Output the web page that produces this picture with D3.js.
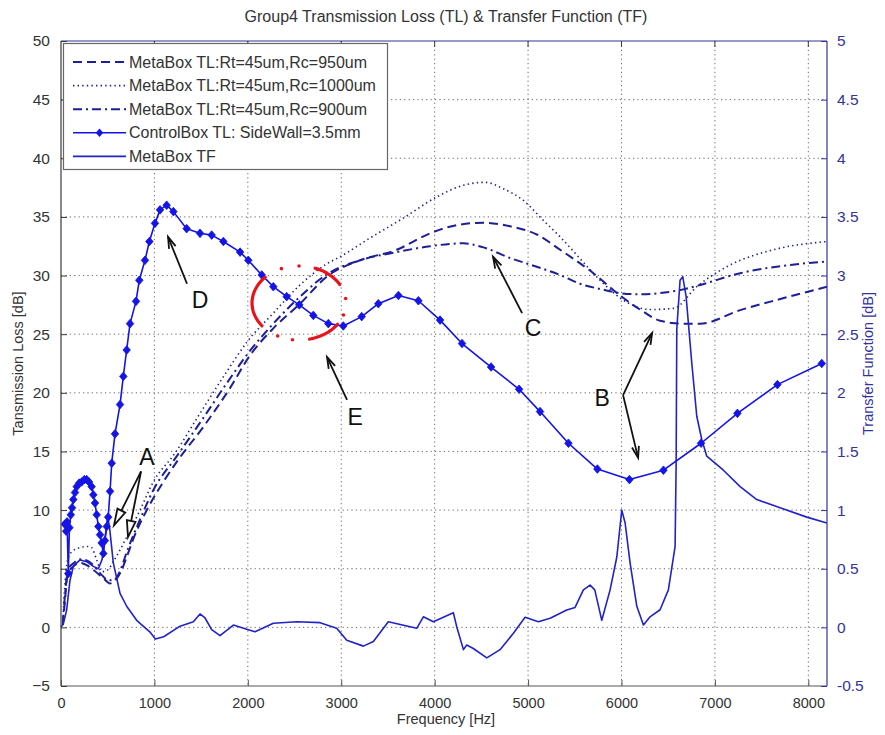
<!DOCTYPE html>
<html>
<head>
<meta charset="utf-8">
<script src="https://cdn.jsdelivr.net/npm/d3@7/dist/d3.min.js"></script>
<style>
  html, body { margin: 0; padding: 0; background: #ffffff; }
  svg { display: block; font-family: "Liberation Sans", Arial, sans-serif; }
</style>
</head>
<body>
<svg id="chart" width="885" height="735"></svg>
<script>
// ---- Data -----------------------------------------------------------------
const xTicks = [0, 1000, 2000, 3000, 4000, 5000, 6000, 7000, 8000];
const yLeftTicks = [-5, 0, 5, 10, 15, 20, 25, 30, 35, 40, 45, 50];
const yRightTicks = [-0.5, 0, 0.5, 1, 1.5, 2, 2.5, 3, 3.5, 4, 4.5, 5];

// ControlBox TL (dB), SideWall = 3.5 mm
const controlFreq = [40, 55, 65, 78, 90, 105, 118, 132, 150, 168, 195, 221, 250, 275, 300, 328, 346, 364, 382, 400, 418, 435, 453, 470, 490, 505, 525, 543, 578, 632, 667, 703, 739, 803, 838, 899, 946, 1006, 1060, 1131, 1203, 1345, 1488, 1613, 1738, 1917, 2005, 2149, 2273, 2416, 2551, 2701, 2862, 3022, 3219, 3397, 3612, 3826, 4058, 4293, 4604, 4904, 5128, 5432, 5742, 6085, 6449, 6852, 7241, 7669, 8144];
const controlTL = [8.8, 8.2, 9.0, 4.6, 8.5, 9.6, 10.2, 10.9, 11.5, 12.0, 12.3, 12.4, 12.6, 12.6, 12.4, 12.0, 11.3, 10.6, 9.6, 8.6, 7.9, 7.2, 6.3, 7.4, 8.6, 9.4, 11.6, 14.0, 16.5, 19.0, 21.4, 23.65, 25.9, 27.8, 29.6, 31.3, 32.9, 34.45, 35.6, 36.0, 35.45, 34.0, 33.6, 33.45, 32.9, 32.0, 31.3, 30.05, 29.05, 28.2, 27.5, 26.6, 25.9, 25.7, 26.5, 27.6, 28.3, 27.85, 26.2, 24.2, 22.2, 20.3, 18.4, 15.7, 13.5, 12.6, 13.4, 15.7, 18.25, 20.7, 22.5];

// MetaBox TL, Rt = 45 um, Rc = 950 um
const meta950Freq = [20, 45, 70, 132, 203, 275, 346, 453, 525, 600, 650, 703, 792, 899, 988, 1095, 1256, 1524, 1809, 2024, 2273, 2559, 2845, 3201, 3594, 3951, 4237, 4522, 4807, 5093, 5343, 5699, 5985, 6199, 6413, 6650, 6842, 7270, 7700, 8200];
const meta950TL = [0.2, 2.5, 4.5, 5.2, 5.5, 5.3, 4.9, 4.2, 3.75, 4.2, 4.9, 6.0, 7.9, 9.7, 11.0, 12.4, 14.3, 17.1, 20.4, 23.2, 25.5, 27.6, 29.9, 31.3, 32.2, 33.6, 34.3, 34.5, 34.2, 33.5, 32.2, 30.2, 28.3, 27.1, 26.15, 25.9, 25.9, 27.05, 28.0, 29.05];

// MetaBox TL, Rt = 45 um, Rc = 1000 um
const meta1000Freq = [20, 45, 80, 140, 203, 275, 328, 380, 436, 500, 560, 632, 703, 846, 988, 1220, 1488, 1774, 1988, 2273, 2559, 2845, 2987, 3308, 3665, 4022, 4308, 4540, 4736, 4950, 5164, 5343, 5550, 5771, 6021, 6306, 6556, 6806, 7127, 7627, 8200];
const meta1000TL = [0.5, 4.0, 6.0, 6.6, 6.8, 6.9, 6.8, 5.8, 4.75, 4.9, 5.6, 6.6, 7.7, 10.0, 12.4, 14.85, 18.25, 21.8, 24.3, 26.8, 29.2, 31.0, 31.6, 33.2, 34.9, 36.7, 37.7, 37.95, 37.4, 36.4, 34.7, 33.3, 31.5, 29.6, 27.9, 27.1, 27.2, 29.05, 30.75, 32.2, 32.9];

// MetaBox TL, Rt = 45 um, Rc = 900 um
const meta900Freq = [20, 45, 80, 140, 203, 275, 346, 420, 490, 560, 632, 703, 846, 988, 1240, 1510, 1790, 2024, 2273, 2559, 2845, 3201, 3594, 3951, 4308, 4522, 4807, 5093, 5343, 5557, 5800, 5985, 6200, 6413, 6650, 6842, 7270, 7700, 8200];
const meta900TL = [0.3, 3.0, 5.0, 5.5, 5.8, 5.7, 5.3, 4.6, 4.1, 4.0, 4.8, 6.4, 9.2, 11.7, 14.6, 17.7, 21.0, 23.6, 25.9, 28.2, 30.1, 31.3, 32.0, 32.5, 32.75, 32.4, 31.5, 30.75, 30.05, 29.3, 28.8, 28.5, 28.4, 28.5, 28.8, 29.2, 30.2, 30.8, 31.2];

// MetaBox transfer function (right axis)
const tfFreq = [0, 25, 61, 96, 132, 203, 275, 346, 400, 440, 470, 500, 520, 560, 632, 703, 810, 953, 1010, 1100, 1274, 1417, 1488, 1542, 1613, 1702, 1845, 1988, 2077, 2273, 2523, 2773, 2951, 3059, 3237, 3344, 3504, 3737, 3808, 3879, 3986, 4200, 4236, 4308, 4343, 4414, 4558, 4700, 4843, 4968, 5110, 5236, 5414, 5503, 5592, 5664, 5714, 5789, 5878, 5950, 6003, 6039, 6092, 6164, 6235, 6306, 6413, 6502, 6574, 6585, 6592, 6627, 6656, 6692, 6753, 6806, 6860, 6913, 7091, 7270, 7448, 7698, 7984, 8198];
const tfValue = [0.0, 0.03, 0.15, 0.40, 0.52, 0.575, 0.56, 0.52, 0.50, 0.58, 0.75, 0.95, 0.85, 0.55, 0.29, 0.18, 0.06, -0.04, -0.1, -0.08, 0.01, 0.048, 0.114, 0.08, -0.02, -0.07, 0.02, -0.016, -0.037, 0.035, 0.048, 0.04, -0.008, -0.11, -0.16, -0.12, 0.048, 0.006, -0.008, 0.09, 0.048, 0.125, 0.006, -0.19, -0.15, -0.18, -0.26, -0.19, -0.05, 0.086, 0.048, 0.077, 0.148, 0.17, 0.32, 0.36, 0.32, 0.06, 0.32, 0.60, 1.0, 0.89, 0.55, 0.18, 0.02, 0.09, 0.15, 0.32, 0.69, 1.4, 2.54, 2.96, 2.99, 2.82, 2.25, 1.80, 1.60, 1.46, 1.34, 1.20, 1.09, 1.02, 0.94, 0.89];

const legendLabels = [
  "MetaBox TL:Rt=45um,Rc=950um",
  "MetaBox TL:Rt=45um,Rc=1000um",
  "MetaBox TL:Rt=45um,Rc=900um",
  "ControlBox TL: SideWall=3.5mm",
  "MetaBox TF"
];

// Call-out letters: label position, arrow start and arrow tips (Hz, dB)
const calloutText = ["A", "D", "E", "C", "B"];
const calloutLabelAt = [[921, 14.5], [1488, 27.9], [3148, 17.9], [5054, 25.5], [5792, 19.6]];
const calloutFrom = [[857, 13.3], [1349, 29.3], [3062, 19.4], [4936, 26.8], [6017, 19.8]];
const calloutTips = [[[567, 8.7], [717, 7.7]], [[1146, 33.3]], [[2848, 23.05]], [[4625, 31.6]], [[6328, 25.1], [6178, 14.45]]];

// Highlight ring around the crossing region (centre Hz, dB; radii Hz, dB)
const ringCenter = [2548, 27.66];
const ringRadius = [503, 3.16];
// Ring drawn as a dash-dot stroke: arc spans and dot positions in degrees (clockwise from the right)
const ringArcs = [[35, 78], [142, 225], [290, 330]];
const ringDots = [19, 98, 117, 248, 270, 353];

// ---- Layout ---------------------------------------------------------------
const plot = { left: 61, right: 827, top: 41, bottom: 686 };
const svg = d3.select("#chart");

const x = d3.scaleLinear().domain([0, 8200]).range([plot.left, plot.right]);
const yL = d3.scaleLinear().domain([-5, 50]).range([plot.bottom, plot.top]);
const yR = d3.scaleLinear().domain([-0.5, 5]).range([plot.bottom, plot.top]);

const leftColor = "#3a3a3a";
const rightColor = "#33339a";
const metaColor = "#1e1e96";
const controlColor = "#1414e6";
const tfColor = "#2222c8";
const fontFamily = "'Liberation Sans', Arial, sans-serif";

// Grid
const grid = svg.append("g");
grid.selectAll("line.gx").data(xTicks.filter(d => d > 0)).join("line")
  .attr("x1", d => x(d)).attr("x2", d => x(d))
  .attr("y1", plot.top).attr("y2", plot.bottom)
  .attr("stroke", "#666").attr("stroke-width", 1).attr("stroke-dasharray", "1.2,3.2");
grid.selectAll("line.gy").data(yLeftTicks.filter(d => d > -5 && d < 50)).join("line")
  .attr("x1", plot.left).attr("x2", plot.right)
  .attr("y1", d => yL(d)).attr("y2", d => yL(d))
  .attr("stroke", "#666").attr("stroke-width", 1).attr("stroke-dasharray", "1.2,3.2");

// Curves
const lineOf = (xs, ys, yScale, curve) => d3.line()
  .x((d, i) => x(xs[i])).y((d, i) => yScale(ys[i])).curve(curve)(xs);

const curves = svg.append("g");
curves.append("path").attr("d", lineOf(meta1000Freq, meta1000TL, yL, d3.curveMonotoneX))
  .attr("fill", "none").attr("stroke", metaColor).attr("stroke-width", 1.6)
  .attr("stroke-dasharray", "1.4,3.2");
curves.append("path").attr("d", lineOf(meta950Freq, meta950TL, yL, d3.curveMonotoneX))
  .attr("fill", "none").attr("stroke", metaColor).attr("stroke-width", 2)
  .attr("stroke-dasharray", "9,5");
curves.append("path").attr("d", lineOf(meta900Freq, meta900TL, yL, d3.curveMonotoneX))
  .attr("fill", "none").attr("stroke", metaColor).attr("stroke-width", 2)
  .attr("stroke-dasharray", "9,4,2,4");
curves.append("path").attr("d", lineOf(tfFreq, tfValue, yR, d3.curveLinear))
  .attr("fill", "none").attr("stroke", tfColor).attr("stroke-width", 1.6)
  .attr("stroke-linejoin", "round");
curves.append("path").attr("d", lineOf(controlFreq, controlTL, yL, d3.curveLinear))
  .attr("fill", "none").attr("stroke", controlColor).attr("stroke-width", 1.6)
  .attr("stroke-linejoin", "round");

// Compact diamond marker for the ControlBox curve
const squatDiamond = {
  draw(ctx, size) {
    const r = Math.sqrt(size) / 2;
    ctx.moveTo(0, -r * 1.15);
    ctx.lineTo(r, 0);
    ctx.lineTo(0, r * 1.15);
    ctx.lineTo(-r, 0);
    ctx.closePath();
  }
};
const marker = d3.symbol().type(squatDiamond).size(56);
curves.selectAll("path.mk").data(controlFreq).join("path")
  .attr("transform", (d, i) => `translate(${x(d)},${yL(controlTL[i])})`)
  .attr("d", marker).attr("fill", controlColor).attr("stroke", controlColor).attr("stroke-width", 0.8);

// Axes box
const box = svg.append("g");
box.append("line").attr("x1", plot.left).attr("x2", plot.left).attr("y1", plot.top).attr("y2", plot.bottom)
  .attr("stroke", leftColor).attr("stroke-width", 1.2);
box.append("line").attr("x1", plot.left).attr("x2", plot.right).attr("y1", plot.bottom).attr("y2", plot.bottom)
  .attr("stroke", "#555").attr("stroke-width", 1.2);
box.append("line").attr("x1", plot.left).attr("x2", plot.right).attr("y1", plot.top).attr("y2", plot.top)
  .attr("stroke", rightColor).attr("stroke-width", 1.2);
box.append("line").attr("x1", plot.right).attr("x2", plot.right).attr("y1", plot.top).attr("y2", plot.bottom)
  .attr("stroke", rightColor).attr("stroke-width", 1.2);

// Left axis
const axL = svg.append("g").attr("transform", `translate(${plot.left},0)`)
  .call(d3.axisLeft(yL).tickValues(yLeftTicks).tickSizeInner(-6).tickSizeOuter(0).tickPadding(11).tickFormat(d3.format("d")));
axL.select(".domain").remove();
axL.selectAll("line").attr("stroke", leftColor);
axL.selectAll("text").attr("fill", "#333").attr("font-size", 15.5).attr("font-family", fontFamily);

// Right axis
const axR = svg.append("g").attr("transform", `translate(${plot.right},0)`)
  .call(d3.axisRight(yR).tickValues(yRightTicks).tickSizeInner(-6).tickSizeOuter(0).tickPadding(10).tickFormat(d => String(d)));
axR.select(".domain").remove();
axR.selectAll("line").attr("stroke", rightColor);
axR.selectAll("text").attr("fill", rightColor).attr("font-size", 15.5).attr("font-family", fontFamily);

// Bottom axis
const axB = svg.append("g").attr("transform", `translate(0,${plot.bottom})`)
  .call(d3.axisBottom(x).tickValues(xTicks).tickSizeInner(-6).tickSizeOuter(0).tickPadding(12).tickFormat(d3.format("d")));
axB.select(".domain").remove();
axB.selectAll("line").attr("stroke", "#555");
axB.selectAll("text").attr("fill", "#333").attr("font-size", 14.5).attr("font-family", fontFamily);

// Top ticks
svg.append("g").selectAll("line").data(xTicks.filter(d => d > 0)).join("line")
  .attr("x1", d => x(d)).attr("x2", d => x(d)).attr("y1", plot.top).attr("y2", plot.top + 6)
  .attr("stroke", leftColor);

// Titles
svg.append("text").attr("x", 446).attr("y", 22).attr("text-anchor", "middle")
  .attr("font-size", 16).attr("fill", "#333").text("Group4 Transmission Loss (TL) & Transfer Function (TF)");
svg.append("text").attr("x", 446).attr("y", 724).attr("text-anchor", "middle")
  .attr("font-size", 14.5).attr("fill", "#333").text("Frequency [Hz]");
svg.append("text").attr("transform", `translate(23,${(plot.top + plot.bottom) / 2}) rotate(-90)`)
  .attr("text-anchor", "middle").attr("font-size", 14.5).attr("fill", "#333").text("Tansmission Loss [dB]");
svg.append("text").attr("transform", `translate(873,${(plot.top + plot.bottom) / 2}) rotate(-90)`)
  .attr("text-anchor", "middle").attr("font-size", 14.5).attr("fill", rightColor).text("Transfer Function [dB]");

// Legend
const lg = svg.append("g");
lg.append("rect").attr("x", 63.5).attr("y", 43.5).attr("width", 324).attr("height", 126)
  .attr("fill", "#fff").attr("stroke", "#666").attr("stroke-width", 1.2);
const legendStyle = [
  { dash: "9,5", w: 2, color: metaColor },
  { dash: "1.4,3.2", w: 1.6, color: metaColor },
  { dash: "9,4,2,4", w: 2, color: metaColor },
  { dash: null, w: 1.6, color: controlColor, marker: true },
  { dash: null, w: 1.6, color: tfColor }
];
legendLabels.forEach((label, i) => {
  const yy = 62 + i * 23.6;
  const s = legendStyle[i];
  lg.append("line").attr("x1", 73).attr("x2", 126).attr("y1", yy).attr("y2", yy)
    .attr("stroke", s.color).attr("stroke-width", s.w).attr("stroke-dasharray", s.dash);
  if (s.marker) {
    lg.append("path").attr("transform", `translate(99.5,${yy})`).attr("d", marker).attr("fill", s.color);
  }
  lg.append("text").attr("x", 129).attr("y", yy + 5.5).attr("font-size", 16).attr("fill", "#333").text(label);
});

// Call-outs
const notes = svg.append("g");
const arrowHead = (fx, fy, tx, ty, open) => {
  const ang = Math.atan2(ty - fy, tx - fx);
  const len = open ? 17 : 12, spread = open ? 0.26 : 0.3;
  const p1 = [tx - len * Math.cos(ang - spread), ty - len * Math.sin(ang - spread)];
  const p2 = [tx - len * Math.cos(ang + spread), ty - len * Math.sin(ang + spread)];
  return `M${p1[0]},${p1[1]}L${tx},${ty}L${p2[0]},${p2[1]}` + (open ? "Z" : "");
};
calloutText.forEach((t, i) => {
  const [lf, ld] = calloutLabelAt[i];
  notes.append("text").attr("x", x(lf)).attr("y", yL(ld) + 8).attr("text-anchor", "middle")
    .attr("font-size", 23).attr("fill", "#111").text(t);
  const fx = x(calloutFrom[i][0]), fy = yL(calloutFrom[i][1]);
  const open = t === "A";
  calloutTips[i].forEach(tp => {
    const tx = x(tp[0]), ty = yL(tp[1]);
    const ang = Math.atan2(ty - fy, tx - fx);
    const back = open ? 15 : 0;
    notes.append("line").attr("x1", fx).attr("y1", fy)
      .attr("x2", tx - back * Math.cos(ang)).attr("y2", ty - back * Math.sin(ang))
      .attr("stroke", "#111").attr("stroke-width", 1.8);
    notes.append("path").attr("d", arrowHead(fx, fy, tx, ty, open))
      .attr("fill", open ? "#fff" : "none").attr("stroke", "#111").attr("stroke-width", 1.8)
      .attr("stroke-linejoin", "miter");
  });
});

// Red highlight ring: long arcs plus dots
const cx = x(ringCenter[0]), cy = yL(ringCenter[1]);
const rx = x(ringCenter[0] + ringRadius[0]) - cx;
const ry = yL(ringCenter[1]) - yL(ringCenter[1] + ringRadius[1]);
const ringPoint = deg => [cx + rx * Math.cos(deg * Math.PI / 180), cy + ry * Math.sin(deg * Math.PI / 180)];
const ring = notes.append("g");
ringArcs.forEach(([a0, a1]) => {
  ring.append("path").attr("d", d3.line()(d3.range(a0, a1 + 0.1, 2).map(ringPoint)))
    .attr("fill", "none").attr("stroke", "#e8141c").attr("stroke-width", 3.2).attr("stroke-linecap", "round");
});
ring.selectAll("circle").data(ringDots).join("circle")
  .attr("cx", d => ringPoint(d)[0]).attr("cy", d => ringPoint(d)[1]).attr("r", 1.8)
  .attr("fill", "#e8141c");
</script>
</body>
</html>
